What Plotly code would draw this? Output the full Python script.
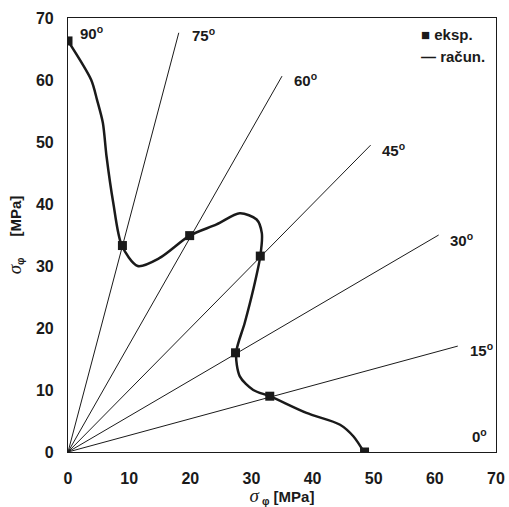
import numpy as np
import plotly.graph_objects as go

# experimental points (eksp.)
exp_x = [0.0, 8.9, 19.9, 31.45, 27.4, 33.0, 48.5]
exp_y = [66.3, 33.3, 34.9, 31.6, 16.0, 9.0, 0.0]

# calculated curve (račun.)
calc_x = [0.0, 3.8, 4.75, 5.7, 6.3, 7.4, 8.8, 11.4, 15.0, 19.9, 24.3, 28.1, 30.85, 31.7, 31.45,
          30.3, 28.9, 27.5, 28.1, 30.3, 33.0, 39.0, 44.5, 46.7, 48.4]
calc_y = [66.3, 60.0, 56.8, 53.1, 47.7, 40.2, 33.3, 30.0, 31.3, 34.9, 36.7, 38.5, 37.5, 35.3, 31.6,
          26.2, 20.8, 16.0, 12.2, 10.0, 9.0, 6.3, 4.4, 2.5, 0.0]

# rays
ray_angles = [15, 30, 45, 60, 75]
ray_lengths = [66, 70, 70, 70, 70]

# angle labels
label_angles = ["0", "15", "30", "45", "60", "75", "90"]
label_x = [65.8, 65.5, 62.2, 51.0, 36.7, 20.0, 1.7]
label_y = [2.6, 16.6, 34.3, 48.8, 60.1, 67.4, 67.6]

# legend entries
legend_labels = ["■ eksp.", "— račun."]

FONT = "Liberation Sans, Arial, sans-serif"
INK = "#1a1a1a"

fig = go.Figure()
for a, L in zip(ray_angles, ray_lengths):
    t = np.deg2rad(a)
    fig.add_trace(go.Scatter(x=[0, L * np.cos(t)], y=[0, L * np.sin(t)], mode="lines",
                             line=dict(color=INK, width=1), showlegend=False,
                             hoverinfo="skip"))

fig.add_trace(go.Scatter(x=calc_x, y=calc_y, mode="lines", name=legend_labels[1], showlegend=False,
                         line=dict(color=INK, width=2.5, shape="spline", smoothing=0.8)))
fig.add_trace(go.Scatter(x=exp_x, y=exp_y, mode="markers", name=legend_labels[0], showlegend=False,
                         marker=dict(symbol="square", size=9, color=INK)))

for t, x, y in zip(label_angles, label_x, label_y):
    fig.add_annotation(x=x, y=y, text="<b>" + t + "<sup>o</sup></b>", showarrow=False,
                       xanchor="left", yanchor="middle",
                       font=dict(family=FONT, size=15, color=INK))

for i, lab in enumerate(legend_labels):
    fig.add_annotation(xref="paper", yref="paper", x=0.82, y=0.962 - i * 0.05,
                       text="<b>" + lab + "</b>", showarrow=False, xanchor="left",
                       yanchor="middle", font=dict(family=FONT, size=15, color=INK))

axis_common = dict(range=[0, 70], dtick=10, showgrid=False, zeroline=False,
                   showline=True, linecolor=INK, linewidth=1.2, mirror=True,
                   ticks="", automargin=False,
                   tickfont=dict(family=FONT, size=16, color=INK, weight="bold"))

sig = "<span style=\"font-family:Liberation Serif;font-weight:normal;font-size:19px\"><i>σ</i></span>"

fig.update_layout(
    width=509, height=507,
    margin=dict(l=68, r=13, t=18, b=55),
    paper_bgcolor="white", plot_bgcolor="white",
    showlegend=False,
    xaxis=dict(**axis_common, ticklabelstandoff=12,
               title=dict(text=sig + "<sub> φ</sub> [MPa]",
                          font=dict(family=FONT, size=15, color=INK, weight="bold"), standoff=4)),
    yaxis=dict(**axis_common, ticklabelstandoff=10,
               title=dict(text=sig + "<sub>φ</sub>     [MPa]",
                          font=dict(family=FONT, size=15, color=INK, weight="bold"), standoff=10)),
)

fig.write_html("out.html", config={"displayModeBar": False},
               post_script="document.body.style.margin='0';document.body.style.overflow='hidden';")
